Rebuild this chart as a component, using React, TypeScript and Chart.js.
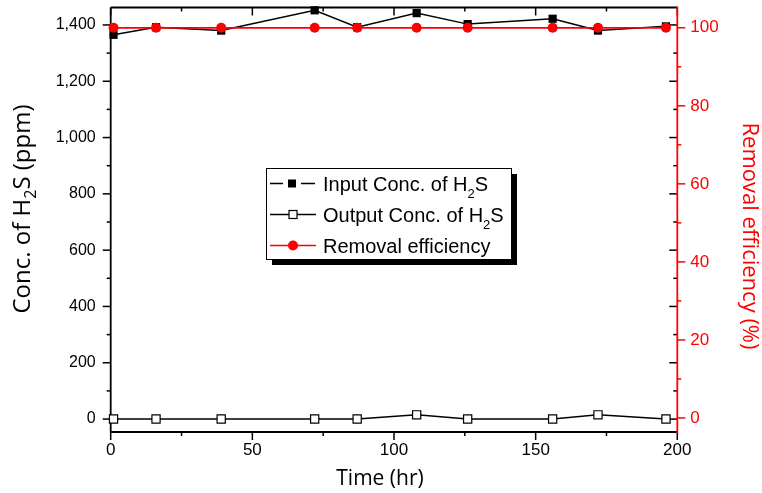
import React, { useEffect, useRef } from 'react';
import { Chart, registerables } from 'chart.js';

Chart.register(...registerables);

// ---- data ----
const timeHr = [1, 16, 39, 72, 87, 108, 126, 156, 172, 196];
const inputConc = [1365, 1392, 1380, 1452, 1392, 1442, 1403, 1422, 1380, 1395];
const outputConc = [0, 0, 0, 0, 0, 15, 0, 0, 15, 0];
const removalEff = [100, 100, 100, 100, 100, 100, 100, 100, 100, 100];

const xMajorTicks = [0, 50, 100, 150, 200];
const xMinorTicks = [25, 75, 125, 175];
const yMajorTicks = [0, 200, 400, 600, 800, 1000, 1200, 1400];
const yMinorTicks = [100, 300, 500, 700, 900, 1100, 1300];
const y2MajorTicks = [0, 20, 40, 60, 80, 100];
const y2MinorTicks = [10, 30, 50, 70, 90];

const RED = '#ff0000';
const TITLE_FONT = '"Open Sans", "Noto Sans", sans-serif';
const TICK_FONT = '"Liberation Sans", Arial, sans-serif';

type Seg = { t: string; sub?: boolean };

function drawSegs(ctx: CanvasRenderingContext2D, segs: Seg[], x: number, y: number, size: number, subSize: number, subDy: number, family: string) {
  let cx = x;
  for (const s of segs) {
    ctx.font = `${s.sub ? subSize : size}px ${family}`;
    ctx.fillText(s.t, cx, s.sub ? y + subDy : y);
    cx += ctx.measureText(s.t).width;
  }
}
function segsWidth(ctx: CanvasRenderingContext2D, segs: Seg[], size: number, subSize: number, family: string) {
  let w = 0;
  for (const s of segs) {
    ctx.font = `${s.sub ? subSize : size}px ${family}`;
    w += ctx.measureText(s.t).width;
  }
  return w;
}

function drawTitle(ctx: CanvasRenderingContext2D, segs: Seg[], cx: number, cy: number, angle: number, size: number, color: string) {
  const subSize = Math.round(size * 0.65);
  const w = segsWidth(ctx, segs, size, subSize, TITLE_FONT);
  ctx.save();
  ctx.translate(cx, cy);
  ctx.rotate(angle);
  ctx.fillStyle = color;
  ctx.textBaseline = 'middle';
  ctx.textAlign = 'left';
  drawSegs(ctx, segs, -w / 2, 0, size, subSize, size * 0.35, TITLE_FONT);
  ctx.restore();
}

const framePlugin = {
  id: 'framePlugin',
  beforeDatasetsDraw(chart: any) {
    const { ctx, chartArea: a, scales } = chart;
    const x = scales.x, y = scales.y, y2 = scales.y2;
    ctx.save();
    ctx.lineWidth = 1.5;
    ctx.lineCap = 'butt';
    const line = (x1: number, y1: number, x2: number, y2p: number, c: string) => {
      ctx.strokeStyle = c;
      ctx.beginPath();
      ctx.moveTo(x1, y1);
      ctx.lineTo(x2, y2p);
      ctx.stroke();
    };
    const MAJ = 8, MIN = 4;
    for (const v of xMajorTicks) {
      const px = x.getPixelForValue(v);
      line(px, a.bottom, px, a.bottom + MAJ, '#000');
      line(px, a.top, px, a.top + MAJ, '#000');
    }
    for (const v of xMinorTicks) {
      const px = x.getPixelForValue(v);
      line(px, a.bottom, px, a.bottom + MIN, '#000');
      line(px, a.top, px, a.top + MIN, '#000');
    }
    for (const v of yMajorTicks) {
      const py = y.getPixelForValue(v);
      line(a.left - MAJ, py, a.left, py, '#000');
      line(a.right - MAJ, py, a.right, py, '#000');
    }
    for (const v of yMinorTicks) {
      const py = y.getPixelForValue(v);
      line(a.left - MIN, py, a.left, py, '#000');
      line(a.right - MIN, py, a.right, py, '#000');
    }
    for (const v of y2MajorTicks) {
      const py = y2.getPixelForValue(v);
      line(a.right, py, a.right + MAJ, py, RED);
    }
    for (const v of y2MinorTicks) {
      const py = y2.getPixelForValue(v);
      line(a.right, py, a.right + MIN, py, RED);
    }
    ctx.lineWidth = 1.8;
    line(a.left, a.top, a.right, a.top, '#000');
    line(a.left, a.bottom, a.right, a.bottom, '#000');
    line(a.left, a.top, a.left, a.bottom + 0.9, '#000');
    line(a.right, a.top - 0.9, a.right, a.bottom + 0.9, RED);
    ctx.restore();
  },
  afterDraw(chart: any) {
    const { ctx } = chart;
    drawTitle(ctx, [{ t: 'Conc. of H' }, { t: '2', sub: true }, { t: 'S (ppm)' }], 23, 209, -Math.PI / 2, 24, '#000');
    drawTitle(ctx, [{ t: 'Removal efficiency (%)' }], 749, 236, Math.PI / 2, 22, RED);
    drawTitle(ctx, [{ t: 'Time (hr)' }], 380, 479, 0, 21, '#000');

    const bx = 266, by = 168, bw = 245, bh = 91;
    ctx.save();
    ctx.fillStyle = '#000';
    ctx.fillRect(bx + 6, by + 6, bw, bh);
    ctx.fillStyle = '#fff';
    ctx.fillRect(bx, by, bw, bh);
    ctx.strokeStyle = '#000';
    ctx.lineWidth = 1;
    ctx.strokeRect(bx + 0.5, by + 0.5, bw, bh);

    const rows = [
      { base: 190.5, label: [{ t: 'Input Conc. of H' }, { t: '2', sub: true }, { t: 'S' }] as Seg[], kind: 0 },
      { base: 221.5, label: [{ t: 'Output Conc. of H' }, { t: '2', sub: true }, { t: 'S' }] as Seg[], kind: 1 },
      { base: 252.5, label: [{ t: 'Removal efficiency' }] as Seg[], kind: 2 },
    ];
    for (const r of rows) {
      const my = r.base - 7;
      ctx.lineWidth = 1.5;
      if (r.kind === 0) {
        ctx.strokeStyle = '#000';
        ctx.beginPath();
        ctx.moveTo(270, my); ctx.lineTo(283, my);
        ctx.moveTo(301, my); ctx.lineTo(315, my);
        ctx.stroke();
        ctx.fillStyle = '#000';
        ctx.fillRect(292 - 4, my - 4, 8, 8);
      } else if (r.kind === 1) {
        ctx.strokeStyle = '#000';
        ctx.beginPath();
        ctx.moveTo(270, my); ctx.lineTo(316, my);
        ctx.stroke();
        ctx.fillStyle = '#fff';
        ctx.fillRect(293 - 4, my - 4, 8, 8);
        ctx.lineWidth = 1.2;
        ctx.strokeRect(293 - 4, my - 4, 8, 8);
      } else {
        ctx.strokeStyle = RED;
        ctx.beginPath();
        ctx.moveTo(270, my); ctx.lineTo(316, my);
        ctx.stroke();
        ctx.fillStyle = RED;
        ctx.beginPath();
        ctx.arc(293, my, 5, 0, Math.PI * 2);
        ctx.fill();
      }
      ctx.fillStyle = '#000';
      ctx.textBaseline = 'alphabetic';
      ctx.textAlign = 'left';
      drawSegs(ctx, r.label, 323, r.base, 20, 13, 7, TICK_FONT);
    }
    ctx.restore();
  },
};

export default function App() {
  const ref = useRef<HTMLCanvasElement | null>(null);
  useEffect(() => {
    if (!ref.current) return;
    const pts = (ys: number[]) => timeHr.map((t, i) => ({ x: t, y: ys[i] }));
    const fitY = (w: number) => (s: any) => { s.width = w; s.paddingTop = 0; s.paddingBottom = 0; };
    const chart = new Chart(ref.current, {
      type: 'line',
      data: {
        datasets: [
          {
            label: 'Removal efficiency',
            data: pts(removalEff),
            yAxisID: 'y2',
            borderColor: RED,
            backgroundColor: RED,
            borderWidth: 1.8,
            pointStyle: 'circle',
            pointRadius: 5,
            pointBackgroundColor: RED,
            pointBorderColor: RED,
            pointBorderWidth: 0,
            clip: false as any,
          },
          {
            label: 'Input Conc. of H2S',
            data: pts(inputConc),
            yAxisID: 'y',
            borderColor: '#000',
            backgroundColor: '#000',
            borderWidth: 1.5,
            pointStyle: 'rect',
            pointRadius: 5.8,
            pointBackgroundColor: '#000',
            pointBorderColor: '#000',
            pointBorderWidth: 0,
            clip: false as any,
          },
          {
            label: 'Output Conc. of H2S',
            data: pts(outputConc),
            yAxisID: 'y',
            borderColor: '#000',
            backgroundColor: '#fff',
            borderWidth: 1.5,
            pointStyle: 'rect',
            pointRadius: 5.8,
            pointBackgroundColor: '#fff',
            pointBorderColor: '#000',
            pointBorderWidth: 1.2,
            clip: false as any,
          },
        ],
      },
      options: {
        animation: false,
        responsive: false,
        events: [],
        layout: { padding: { top: 7.5, left: 0, right: 0, bottom: 0 } },
        plugins: { legend: { display: false }, tooltip: { enabled: false } },
        scales: {
          x: {
            type: 'linear',
            min: 0,
            max: 200,
            afterBuildTicks: (s: any) => { s.ticks = xMajorTicks.map((v) => ({ value: v })); },
            afterFit: (s: any) => { s.height = 61; s.paddingLeft = 0; s.paddingRight = 0; },
            grid: { display: true, color: 'rgba(0,0,0,0)', drawOnChartArea: false, tickLength: 8 },
            border: { display: false },
            ticks: { color: '#000', font: { family: TICK_FONT, size: 17 }, padding: 0, maxRotation: 0 },
          },
          y: {
            type: 'linear',
            position: 'left',
            min: -46,
            max: 1462,
            afterBuildTicks: (s: any) => { s.ticks = yMajorTicks.map((v) => ({ value: v })); },
            afterFit: fitY(110.7),
            grid: { display: true, color: 'rgba(0,0,0,0)', drawOnChartArea: false, tickLength: 9 },
            border: { display: false },
            ticks: {
              color: '#000',
              font: { family: TICK_FONT, size: 16 },
              padding: 6,
              callback: (v: any) => Number(v).toLocaleString('en-US'),
            },
          },
          y2: {
            type: 'linear',
            position: 'right',
            min: -3.6,
            max: 105.2,
            afterBuildTicks: (s: any) => { s.ticks = y2MajorTicks.map((v) => ({ value: v })); },
            afterFit: fitY(762 - 677.3),
            grid: { display: true, color: 'rgba(0,0,0,0)', drawOnChartArea: false, tickLength: 8 },
            border: { display: false },
            ticks: { color: RED, font: { family: TICK_FONT, size: 17 }, padding: 5 },
          },
        },
      },
      plugins: [framePlugin],
    } as any);
    return () => chart.destroy();
  }, []);
  return (
    <div style={{ position: 'fixed', left: 0, top: 0, width: 762, height: 493, background: '#fff' }}>
      <canvas ref={ref} width={762} height={493} style={{ width: 762, height: 493, display: 'block' }} />
    </div>
  );
}
